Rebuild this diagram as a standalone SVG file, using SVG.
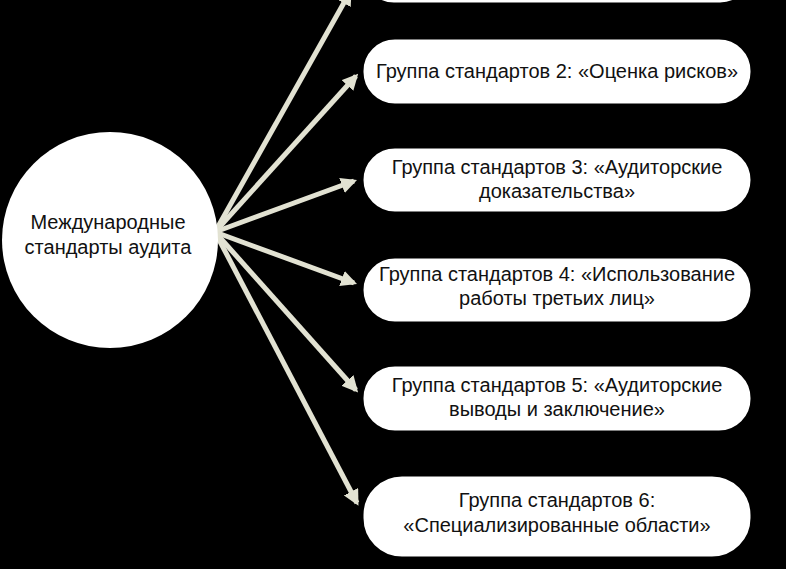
<svg xmlns="http://www.w3.org/2000/svg" width="786" height="569" viewBox="0 0 786 569">
<style>
.box{fill:#fff;stroke:#000;stroke-width:3}
.t{font-family:"Liberation Sans",Arial,sans-serif;font-size:20px;fill:#111;text-anchor:middle}
.c{stroke:#e2e2d2;stroke-width:5;fill:none;marker-end:url(#a)}
</style>
<defs><marker id="a" viewBox="0 0 10 10" refX="8" refY="5" markerWidth="3.2" markerHeight="3.2" orient="auto" markerUnits="strokeWidth"><path d="M0,0L10,5L0,10z" fill="#e2e2d2"/></marker></defs>
<rect width="786" height="569" fill="#000"/>
<g id="connectors">
<line class="c" x1="215" y1="232" x2="350" y2="-8"/>
<line class="c" x1="215" y1="232" x2="356" y2="76"/>
<line class="c" x1="215" y1="232" x2="354" y2="181"/>
<line class="c" x1="215" y1="232" x2="354" y2="283"/>
<line class="c" x1="215" y1="232" x2="356" y2="390"/>
<line class="c" x1="215" y1="232" x2="357" y2="503"/>
</g>
<g id="center"><circle cx="110" cy="240" r="108" fill="#fff"/>
<text class="t" x="108" y="229">Международные</text><text class="t" x="108" y="254">стандарты аудита</text></g>
<g id="n1"><rect class="box" x="362" y="-60" width="390" height="64" rx="32"/></g>
<g id="n2"><rect class="box" x="362" y="38" width="390" height="67" rx="33"/><text class="t" x="557" y="78">Группа стандартов 2: «Оценка рисков»</text></g>
<g id="n3"><rect class="box" x="362" y="147" width="390" height="66" rx="33"/><text class="t" x="557" y="174">Группа стандартов 3: «Аудиторские</text><text class="t" x="557" y="198">доказательства»</text></g>
<g id="n4"><rect class="box" x="362" y="257" width="390" height="66" rx="33"/><text class="t" x="557" y="281">Группа стандартов 4: «Использование</text><text class="t" x="557" y="305">работы третьих лиц»</text></g>
<g id="n5"><rect class="box" x="362" y="365" width="390" height="67" rx="33"/><text class="t" x="557" y="392">Группа стандартов 5: «Аудиторские</text><text class="t" x="557" y="416">выводы и заключение»</text></g>
<g id="n6"><rect class="box" x="362" y="475" width="390" height="83" rx="40"/><text class="t" x="557" y="507">Группа стандартов 6:</text><text class="t" x="557" y="532">«Специализированные области»</text></g>
</svg>
